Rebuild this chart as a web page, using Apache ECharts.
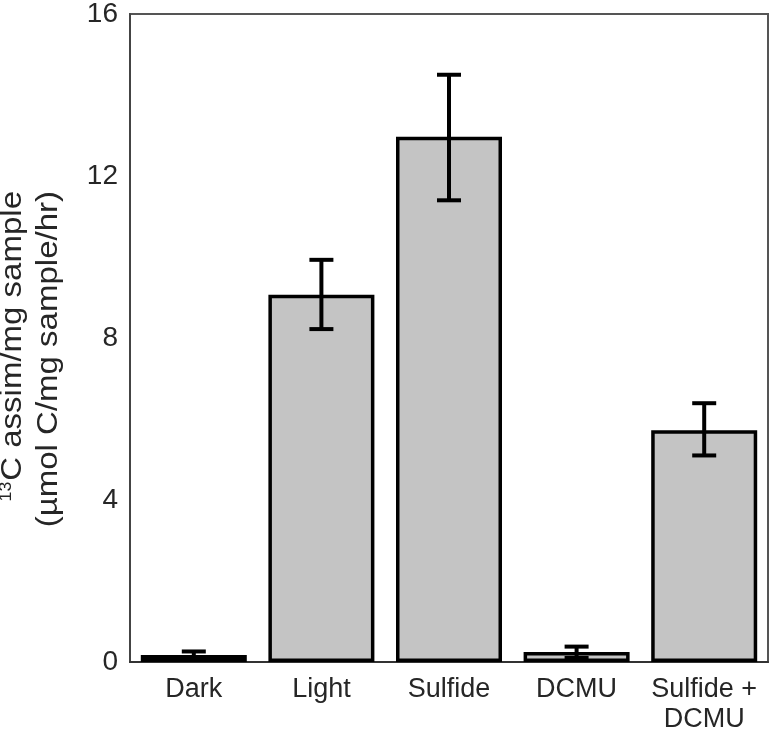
<!DOCTYPE html>
<html>
<head>
<meta charset="utf-8">
<script src="https://cdn.jsdelivr.net/npm/echarts@6/dist/echarts.min.js"></script>
<style>html,body{margin:0;padding:0;background:#fff;overflow:hidden;}#c{width:780px;height:735px;}</style>
</head>
<body>
<div id="c"></div>
<script>
var categories = ['Dark', 'Light', 'Sulfide', 'DCMU', 'Sulfide +\nDCMU'];
var values = [0.17, 9.07, 12.97, 0.25, 5.72];
var errLow = [0.1, 8.22, 11.4, 0.1, 5.1];
var errHigh = [0.26, 9.93, 14.5, 0.38, 6.39];
var yTicks = [0, 4, 8, 12, 16];

var chart = echarts.init(document.getElementById('c'), null, { width: 780, height: 735 });
var FONT = 'Liberation Sans, Arial, sans-serif';
var TXT = '#262626';

chart.setOption({
  animation: false,
  backgroundColor: '#fff',
  grid: { left: 130, right: 12, top: 11, bottom: 67, show: true, borderColor: '#555', borderWidth: 2, backgroundColor: 'transparent' },
  xAxis: {
    type: 'category',
    data: categories,
    axisLine: { show: true, lineStyle: { color: '#333', width: 2 } },
    axisTick: { show: false },
    axisLabel: { interval: 0, fontSize: 27, fontFamily: FONT, color: TXT, margin: 13, lineHeight: 30 }
  },
  yAxis: {
    type: 'value',
    min: yTicks[0],
    max: yTicks[yTicks.length - 1],
    interval: 4,
    splitLine: { show: false },
    axisLine: { show: true, lineStyle: { color: '#444', width: 2 } },
    axisTick: { show: false },
    axisLabel: { fontSize: 28, fontFamily: FONT, color: TXT, margin: 12 }
  },
  graphic: [{
    type: 'text',
    x: 31,
    y: 191,
    rotation: Math.PI / 2,
    scaleX: 1.1,
    style: {
      text: '{sup|13}{m|C assim/mg sample}\n{m|(µmol C/mg sample/hr)}',
      textAlign: 'right',
      textVerticalAlign: 'middle',
      fill: TXT,
      fontFamily: FONT,
      rich: {
        m: { fontSize: 30, fontFamily: FONT, color: TXT, lineHeight: 36 },
        sup: { fontSize: 16, fontFamily: FONT, color: TXT, lineHeight: 36, padding: [0, 1, 13, 0] }
      }
    }
  }],
  series: [
    {
      type: 'bar',
      data: values,
      barWidth: 106,
      itemStyle: { color: '#c4c4c4', borderColor: '#000', borderWidth: 3.5 }
    },
    {
      type: 'custom',
      data: categories.map(function (c, i) { return [i, errLow[i], errHigh[i]]; }),
      encode: { x: 0, y: [1, 2] },
      z: 5,
      renderItem: function (params, api) {
        var lo = api.coord([api.value(0), api.value(1)]);
        var hi = api.coord([api.value(0), api.value(2)]);
        var hw = 12;
        var st = { stroke: '#000', lineWidth: 4 };
        return {
          type: 'group',
          children: [
            { type: 'line', shape: { x1: hi[0], y1: hi[1], x2: lo[0], y2: lo[1] }, style: st },
            { type: 'line', shape: { x1: hi[0] - hw, y1: hi[1], x2: hi[0] + hw, y2: hi[1] }, style: st },
            { type: 'line', shape: { x1: lo[0] - hw, y1: lo[1], x2: lo[0] + hw, y2: lo[1] }, style: st }
          ]
        };
      }
    }
  ]
});
</script>
</body>
</html>
